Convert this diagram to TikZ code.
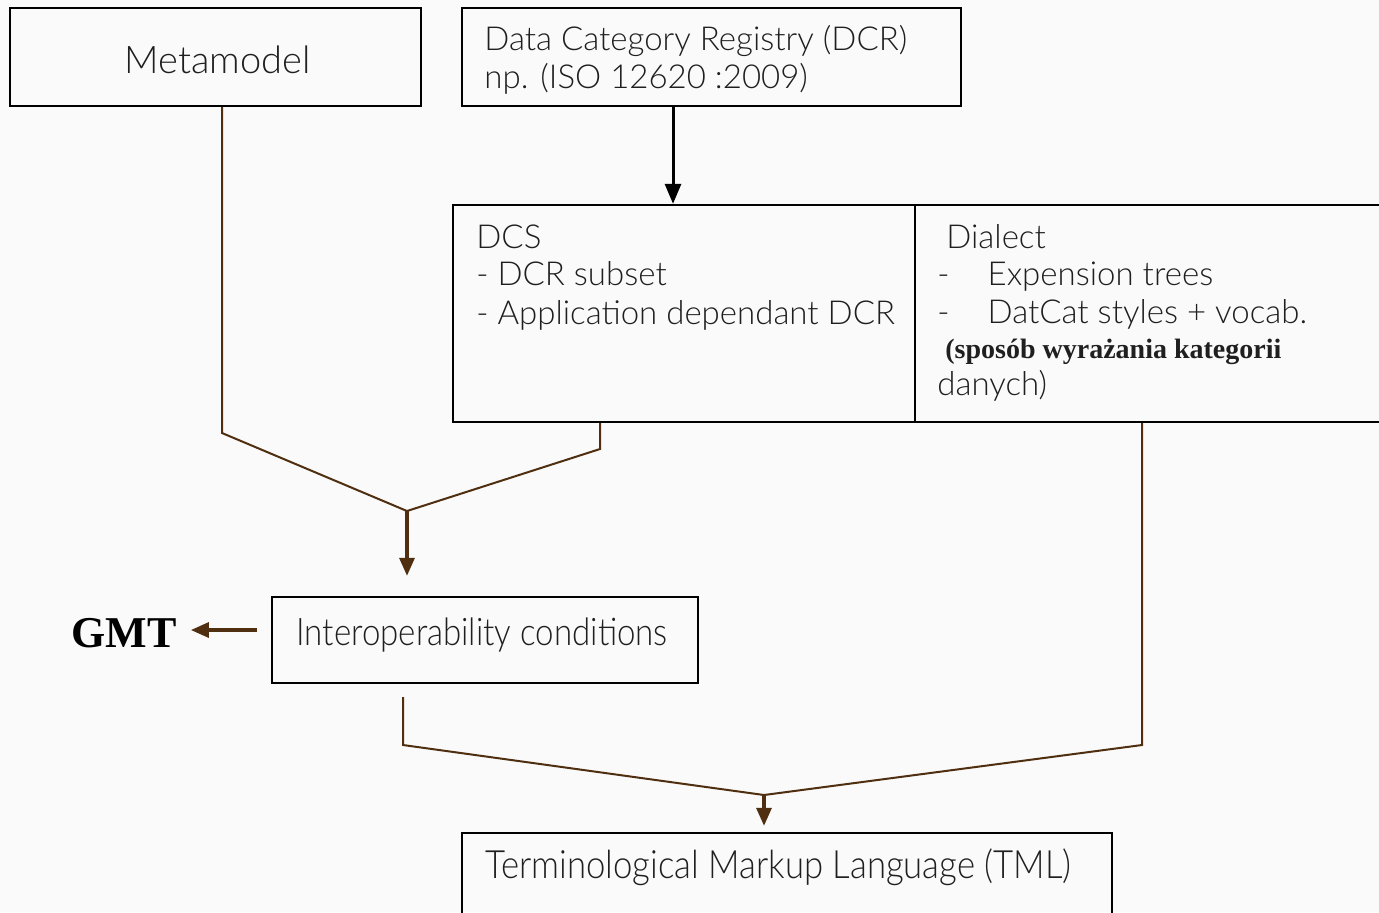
\documentclass[tikz,border=0pt]{standalone}
\usepackage{fontspec}
\setmainfont{Lato}[UprightFont={* Light}]
\newfontfamily\condfont{Lato}[UprightFont={* Light}, FakeStretch=0.87]
\newfontfamily\condfontb{Lato}[UprightFont={* Light}, FakeStretch=0.89]
\newfontfamily\tnr{Liberation Serif}
\usetikzlibrary{fit,calc,arrows.meta}
\definecolor{bgc}{HTML}{FAFAFA}
\definecolor{brn}{HTML}{4F2F10}
\begin{document}
\begin{tikzpicture}[x=0.5pt,y=-0.5pt,
  box/.style={draw=black, line width=1.2pt, inner sep=0pt, fit={#1}},
  txt/.style={anchor=base west, inner sep=0pt, font=\fontsize{16.5}{20}\selectfont, text=black!88},
  conn/.style={draw=brn, line width=1pt},
  brarrow/.style={draw=brn, line width=1.6pt, -{Triangle[length=9pt,width=7.5pt]}, brn},
  blarrow/.style={draw=black, line width=1.5pt, -{Triangle[length=10pt,width=8pt]}}
]
\fill[bgc] (0,0) rectangle (1379,912);
\useasboundingbox (0,0) rectangle (1379,912);
\clip (0,0) rectangle (1379,912);

% boxes
\node[box={(10,8) (421,106)}] (meta) {};
\node[box={(462,8) (961,106)}] (dcr) {};
\node[box={(453,205) (915,422)}] (dcs) {};
\node[box={(915,205) (1390,422)}] (dial) {};
\node[box={(272,597) (698,683)}] (inter) {};
\node[box={(462,833) (1112,930)}] (tml) {};

% texts
\node[txt, font=\fontsize{19}{22}\selectfont] (tmeta) at (124,73) {Metamodel};
\node[txt] (tdcr1) at (484,50) {Data Category Registry (DCR)};
\node[txt] (tdcr2) at (484,88) {np. (ISO 12620 :2009)};
\node[txt] (tdcs1) at (476,248) {DCS};
\node[txt] (tdcs2) at (476,285) {- DCR subset};
\node[txt] (tdcs3) at (476,324) {- Application dependant DCR};
\node[txt] (tdia1) at (946,248) {Dialect};
\node[txt] (tdia2) at (937,285) {-\hspace{19pt}Expension trees};
\node[txt] (tdia3) at (937,323) {-\hspace{19pt}DatCat styles + vocab.};
\node[txt, font=\tnr\bfseries\fontsize{14}{16}\selectfont] (tdia4) at (945,358) {(sposób wyrażania kategorii};
\node[txt] (tdia5) at (937,395) {danych)};
\node[txt, font=\condfont\fontsize{19}{20}\selectfont] (tint) at (296,645) {Interoperability conditions};
\node[txt, font=\condfontb\fontsize{19.5}{20}\selectfont] (ttml) at (485,878) {Terminological Markup Language (TML)};
\node[txt, font=\tnr\bfseries\fontsize{22}{26}\selectfont, text=black] (gmt) at (71,647) {GMT};

% junction coordinates
\coordinate (m1) at (222,433);
\coordinate (d1) at (600,449);
\coordinate (j1) at (407,511);
\coordinate (g1) at (257,630);
\coordinate (c1) at (673,0);
\coordinate (i1) at (403,745);
\coordinate (l1) at (1142,745);
\coordinate (j2) at (764,795);

% connectors
\draw[blarrow] (dcr.south -| c1) -- (dcs.north -| c1);
\draw[conn] (meta.south -| m1) -- (m1) -- (j1);
\draw[conn] (dcs.south -| d1) -- (d1) -- (j1);
\draw[brarrow, shorten >=10pt] (j1) -- (inter.north -| j1);
\draw[brarrow, shorten >=7pt] (g1) -- (gmt.east |- g1);
\draw[conn, shorten <=6.5pt] (inter.south -| i1) -- (i1) -- (j2);
\draw[conn] (dial.south -| l1) -- (l1) -- (j2);
\draw[brarrow, shorten >=3pt] (j2) -- (tml.north -| j2);
\end{tikzpicture}
\end{document}
